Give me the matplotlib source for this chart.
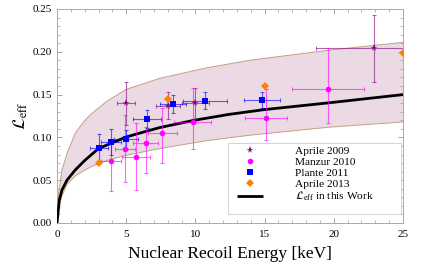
import matplotlib
matplotlib.use("Agg")
import matplotlib.pyplot as plt
from matplotlib.ticker import MultipleLocator
from matplotlib.patches import Rectangle
import numpy as np

plt.rcParams['font.family'] = ['Liberation Serif', 'DejaVu Serif']
plt.rcParams['mathtext.fontset'] = 'stix'

# model curve
E_curve = [0, 0.07, 0.17, 0.36, 0.72, 1.32, 2.04, 3.0, 5.0, 6.7, 7.43, 9.84, 12.48, 15.0, 19.7, 25.0]
L_curve = [0, 0.011, 0.027, 0.0386, 0.050, 0.062, 0.0736, 0.087, 0.1005, 0.1083, 0.1115, 0.1198, 0.127, 0.1325, 0.1405, 0.150]

# uncertainty band
E_band = [0, 0.12, 0.36, 0.72, 1.32, 1.92, 2.38, 3.58, 4.98, 7.43, 10.73, 13.9, 19.7, 25.0]
L_upper = [0, 0.035, 0.062, 0.081, 0.105, 0.118, 0.126, 0.142, 0.156, 0.169, 0.181, 0.190, 0.202, 0.211]
L_lower = [0, 0.019, 0.032, 0.045, 0.055, 0.061, 0.065, 0.073, 0.079, 0.087, 0.096, 0.1025, 0.112, 0.118]

# Aprile 2009
E_a09 = [5.0, 8.0, 10.0, 22.9]
L_a09 = [0.140, 0.137, 0.140, 0.204]
xe_a09 = [0.65, 0.86, 1.0, 4.2]
ye_a09 = [0.025, 0.016, 0.018, 0.039]

# Manzur 2010
E_m10 = [3.9, 4.9, 5.7, 6.4, 7.6, 9.8, 15.1, 19.6]
L_m10 = [0.073, 0.087, 0.077, 0.094, 0.105, 0.118, 0.123, 0.157]
ye_m10_lo = [0.036, 0.039, 0.039, 0.036, 0.035, 0.031, 0.026, 0.0405]
ye_m10_hi = [0.020, 0.039, 0.040, 0.018, 0.029, 0.040, 0.034, 0.047]
xe_m10 = [0.7, 0.7, 1.0, 0.9, 1.05, 1.35, 1.5, 2.6]

# Plante 2011
E_p11 = [3.0, 3.9, 5.0, 6.5, 8.4, 10.7, 14.8]
L_p11 = [0.088, 0.095, 0.098, 0.1215, 0.139, 0.143, 0.144]
ye_p11 = [0.016, 0.015, 0.011, 0.011, 0.011, 0.0095, 0.0095]
xe_p11 = [0.65, 0.75, 0.85, 1.0, 0.95, 1.6, 1.3]

# Aprile 2013
E_a13 = [3.0, 8.0, 15.0, 25.0]
L_a13 = [0.070, 0.1445, 0.160, 0.199]

fig = plt.figure(figsize=(4.36, 2.73), dpi=100)
ax = fig.add_axes([57/436, 50/273, 346/436, 214/273])

ax.fill_between(E_band, L_lower, L_upper, facecolor='#ebd9e3', edgecolor='none', zorder=1)
ax.plot(E_band, L_upper, color='#c4a080', lw=0.7, zorder=2)
ax.plot(E_band, L_lower, color='#c4a080', lw=0.7, zorder=2)

line, = ax.plot(E_curve, L_curve, color='black', lw=2.0, zorder=3, solid_capstyle='butt',
                solid_joinstyle='round')

ekw = dict(linestyle='none', elinewidth=0.8, capsize=1.5, capthick=0.8, zorder=4)
ax.errorbar(E_a09, L_a09, xerr=xe_a09, yerr=ye_a09, ecolor=(0.5, 0, 0.5, 0.6), **ekw)
ax.errorbar(E_m10, L_m10, xerr=xe_m10, yerr=[ye_m10_lo, ye_m10_hi], ecolor=(1, 0, 1, 0.6), **ekw)
ax.errorbar(E_p11, L_p11, xerr=xe_p11, yerr=ye_p11, ecolor=(0, 0, 1, 0.6), **ekw)

h1, = ax.plot(E_a09, L_a09, '*', color='#800080', ms=5.5, mew=0, zorder=5, label='Aprile 2009')
h2, = ax.plot(E_m10, L_m10, 'o', color='#ff00ff', ms=4, mew=0, zorder=5, label='Manzur 2010')
h3, = ax.plot(E_p11, L_p11, 's', color='#0000ff', ms=4, mew=0, zorder=5, label='Plante 2011')
h4, = ax.plot(E_a13, L_a13, 'D', color='#ff8000', ms=4.5, mew=0, zorder=5, label='Aprile 2013')
line.set_label(r'$\mathcal{L}_{\rm eff}$ in this Work')

ax.set_xlim(0, 25)
ax.set_ylim(0, 0.25)
ax.xaxis.set_major_locator(MultipleLocator(5))
ax.xaxis.set_minor_locator(MultipleLocator(1))
ax.yaxis.set_major_locator(MultipleLocator(0.05))
ax.yaxis.set_minor_locator(MultipleLocator(0.01))
ax.yaxis.set_major_formatter(plt.FuncFormatter(lambda v, p: '%.2f' % v))
ax.tick_params(which='both', direction='in', top=True, right=True, color='#999999', labelsize=8)
ax.tick_params(which='major', length=3.5, width=0.6)
ax.tick_params(which='minor', length=2, width=0.5)
ax.tick_params(axis='x', pad=5)
for s in ax.spines.values():
    s.set_color('#aaaaaa')
    s.set_linewidth(0.7)

ax.set_xlabel('Nuclear Recoil Energy [keV]', fontsize=12.5, labelpad=5)
ax.set_ylabel(r'$\mathcal{L}_{\rm eff}$', fontsize=12.5, labelpad=2)

# legend box drawn separately (wide right margin as in the original)
ax.add_patch(Rectangle((0.494, 0.042), 0.500, 0.332, transform=ax.transAxes,
                       facecolor='white', edgecolor='#cccccc', lw=0.6, zorder=6))
leg = ax.legend(handles=[h1, h2, h3, h4, line], loc='upper left', fontsize=8.2,
                frameon=False, handlelength=2.3, handletextpad=2.8, labelspacing=0.1,
                borderpad=0, borderaxespad=0, bbox_to_anchor=(0.52, 0.362))
leg.set_zorder(7)

fig.savefig('out.png', dpi=100)
